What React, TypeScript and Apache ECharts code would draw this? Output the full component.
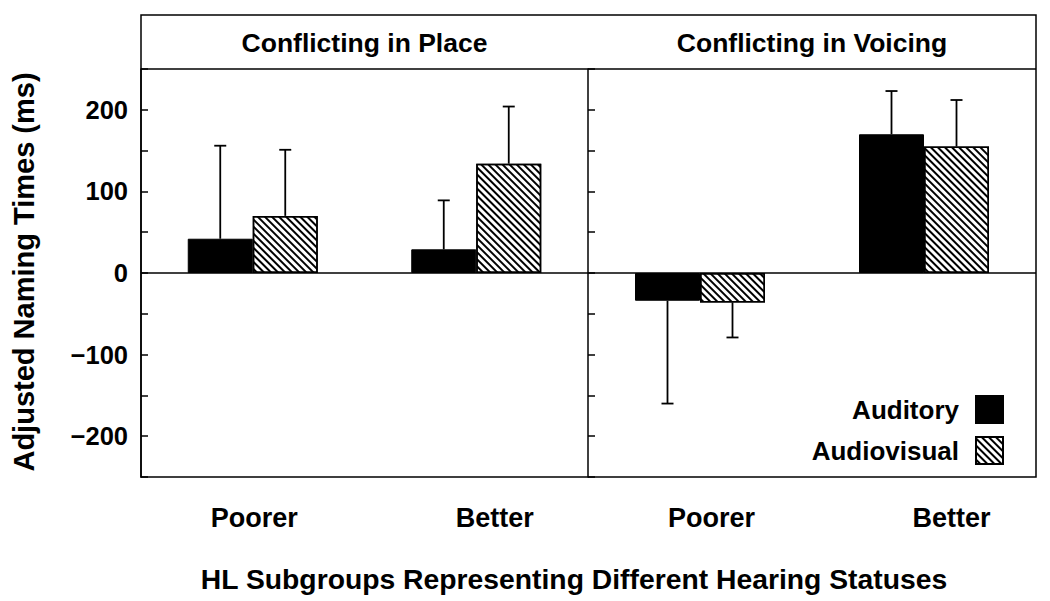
import React, { useEffect, useRef } from "react";
import * as echarts from "echarts";

const categories = ["Poorer", "Better"];
const panelTitles = ["Conflicting in Place", "Conflicting in Voicing"];
const seriesNames = ["Auditory", "Audiovisual"];
const placeAuditory = [42, 29];
const placeAudiovisual = [70, 134];
const placeAuditorySD = [114, 60];
const placeAudiovisualSD = [81, 70];
const voicingAuditory = [-34, 170];
const voicingAudiovisual = [-36, 155];
const voicingAuditorySD = [126, 53];
const voicingAudiovisualSD = [43, 57];
const yTickLabels = [200, 100, 0, -100, -200];
const yTitle = "Adjusted Naming Times (ms)";
const xTitle = "HL Subgroups Representing Different Hearing Statuses";

const FONT = "'Liberation Sans', Arial, sans-serif";
const BAR_W = 65;
const GRID_TOP = 69;
const GRID_H = 408;
const LEFT0 = 141;
const MID = 588;
const RIGHT_EDGE = 1036;
const STRIP_TOP = 15;

const hatch = {
  symbol: "rect",
  symbolSize: 1,
  color: "#000",
  dashArrayX: [1, 0],
  dashArrayY: [1.2, 2.4],
  rotation: Math.PI / 4,
};

function errorSeries(gridIdx: number, values: number[], sds: number[], offset: number) {
  return {
    type: "custom",
    xAxisIndex: gridIdx,
    yAxisIndex: gridIdx,
    z: 5,
    data: values.map((v, i) => [i, v, sds[i]]),
    renderItem: (params: any, api: any) => {
      const cat = api.value(0);
      const v = api.value(1);
      const e = api.value(2);
      const end = v >= 0 ? v + e : v - e;
      const p0 = api.coord([cat, v]);
      const p1 = api.coord([cat, end]);
      const x = p0[0] + offset;
      const st = { stroke: "#000", lineWidth: 1.8 };
      return {
        type: "group",
        children: [
          { type: "line", shape: { x1: x, y1: p0[1], x2: x, y2: p1[1] }, style: st },
          { type: "line", shape: { x1: x - 6, y1: p1[1], x2: x + 6, y2: p1[1] }, style: st },
        ],
      };
    },
  };
}

function barSeries(name: string, gridIdx: number, values: number[], hatched: boolean) {
  return {
    name,
    type: "bar",
    xAxisIndex: gridIdx,
    yAxisIndex: gridIdx,
    barWidth: BAR_W,
    barGap: "0%",
    data: values,
    itemStyle: hatched
      ? { color: "#fff", borderColor: "#000", borderWidth: 1.5, decal: hatch }
      : { color: "#000", borderColor: "#000", borderWidth: 1 },
    markLine:
      name === "Auditory"
        ? {
            silent: true,
            symbol: "none",
            label: { show: false },
            lineStyle: { color: "#000", width: 1.5, type: "solid" },
            data: [{ yAxis: 0 }],
          }
        : undefined,
  };
}

const labelPads = [
  [3, 37],
  [23, 55],
];

function xAxisFor(gridIdx: number) {
  const base = { fontSize: 27, fontWeight: "bold", color: "#000", fontFamily: FONT };
  return {
    type: "category",
    gridIndex: gridIdx,
    data: categories,
    axisLine: { show: false, onZero: false },
    axisTick: { show: false },
    axisLabel: {
      margin: 27,
      formatter: (v: string) => {
        const i = categories.indexOf(v);
        return `{c${i}|${v}}`;
      },
      rich: {
        c0: { ...base, padding: [0, 0, 0, labelPads[gridIdx][0]] },
        c1: { ...base, padding: [0, 0, 0, labelPads[gridIdx][1]] },
      },
    },
  };
}

function yAxisFor(gridIdx: number) {
  return {
    type: "value",
    gridIndex: gridIdx,
    min: -250,
    max: 250,
    interval: 50,
    splitLine: { show: false },
    axisLine: { show: true, lineStyle: { color: "#000", width: 1.5 } },
    axisTick: { show: true, inside: true, length: 7, lineStyle: { color: "#000", width: 1.5 } },
    axisLabel: {
      show: gridIdx === 0,
      margin: 13,
      fontSize: 25.5,
      fontWeight: "bold",
      color: "#000",
      fontFamily: FONT,
      formatter: (v: number) =>
        yTickLabels.includes(v) ? (v < 0 ? "\u2212" + Math.abs(v) : String(v)) : "",
    },
  };
}

export default function App() {
  const ref = useRef<HTMLDivElement>(null);
  useEffect(() => {
    if (!ref.current) return;
    const chart = echarts.init(ref.current, undefined, { renderer: "svg" });
    const titleStyle = { fontWeight: "bold", fill: "#000", fontFamily: FONT, align: "center", verticalAlign: "middle" };
    chart.setOption({
      animation: false,
      backgroundColor: "#fff",
      grid: [
        { left: LEFT0, top: GRID_TOP, width: MID - LEFT0, height: GRID_H },
        { left: MID, top: GRID_TOP, width: RIGHT_EDGE - MID, height: GRID_H },
      ],
      xAxis: [xAxisFor(0), xAxisFor(1)],
      yAxis: [yAxisFor(0), yAxisFor(1)],
      legend: {
        data: seriesNames,
        orient: "vertical",
        right: 41,
        top: 390,
        align: "right",
        icon: "rect",
        itemWidth: 27,
        itemHeight: 27,
        itemGap: 12,
        selectedMode: false,
        textStyle: { fontSize: 26, fontWeight: "bold", color: "#000", fontFamily: FONT, padding: [0, 12, 0, 0] },
      },
      series: [
        barSeries(seriesNames[0], 0, placeAuditory, false),
        barSeries(seriesNames[1], 0, placeAudiovisual, true),
        barSeries(seriesNames[0], 1, voicingAuditory, false),
        barSeries(seriesNames[1], 1, voicingAudiovisual, true),
        errorSeries(0, placeAuditory, placeAuditorySD, -BAR_W / 2),
        errorSeries(0, placeAudiovisual, placeAudiovisualSD, BAR_W / 2),
        errorSeries(1, voicingAuditory, voicingAuditorySD, -BAR_W / 2),
        errorSeries(1, voicingAudiovisual, voicingAudiovisualSD, BAR_W / 2),
      ],
      graphic: [
        {
          type: "rect",
          shape: { x: LEFT0, y: STRIP_TOP, width: RIGHT_EDGE - LEFT0, height: GRID_TOP + GRID_H - STRIP_TOP },
          style: { fill: "none", stroke: "#000", lineWidth: 1.5 },
          z: 10,
        },
        {
          type: "line",
          shape: { x1: LEFT0, y1: GRID_TOP, x2: RIGHT_EDGE, y2: GRID_TOP },
          style: { stroke: "#000", lineWidth: 1.5 },
          z: 10,
        },
        {
          type: "text",
          x: (LEFT0 + MID) / 2,
          y: 43,
          style: { ...titleStyle, fontSize: 26.5, text: panelTitles[0] },
        },
        {
          type: "text",
          x: (MID + RIGHT_EDGE) / 2,
          y: 43,
          style: { ...titleStyle, fontSize: 26.5, text: panelTitles[1] },
        },
        {
          type: "text",
          x: 574,
          y: 579,
          style: { ...titleStyle, fontSize: 28.3, text: xTitle },
        },
        {
          type: "text",
          x: 24,
          y: 272,
          rotation: Math.PI / 2,
          style: { ...titleStyle, fontSize: 29, text: yTitle },
        },
      ],
    });
    return () => chart.dispose();
  }, []);
  return <div ref={ref} style={{ position: "fixed", left: 0, top: 0, width: 1050, height: 601 }} />;
}
